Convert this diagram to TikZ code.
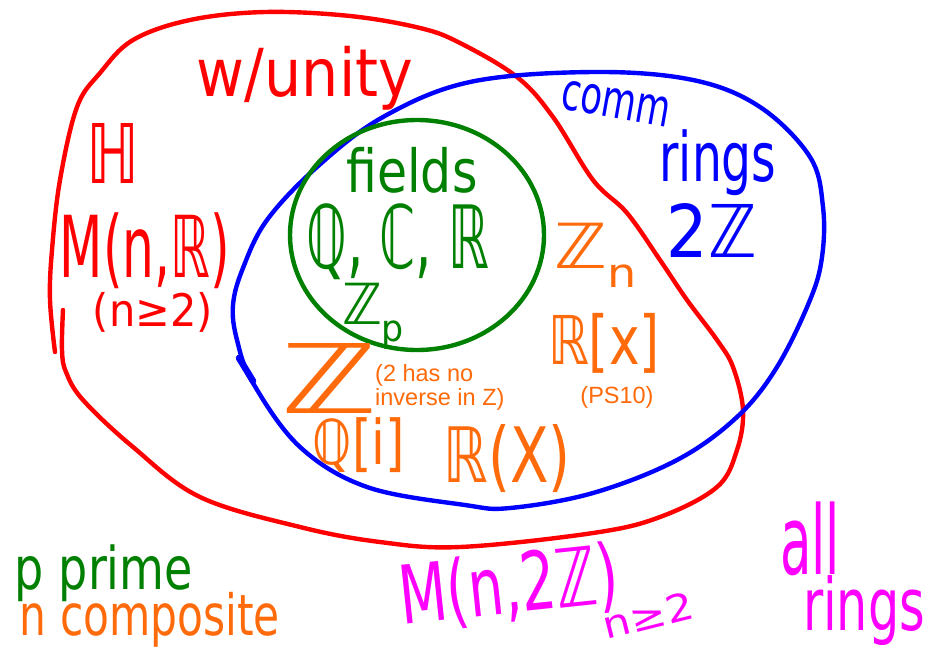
\documentclass[tikz,border=0pt]{standalone}
\usepackage{graphicx}
\usepackage{fontspec}
\setmainfont{DejaVu Sans}
\newfontfamily\smallfont{Liberation Sans}
\definecolor{hred}{RGB}{255,0,0}
\definecolor{hblue}{RGB}{0,0,255}
\definecolor{hgreen}{RGB}{0,128,0}
\definecolor{horange}{RGB}{255,106,10}
\definecolor{hmag}{RGB}{255,0,255}
\newcommand{\hw}[3]{\resizebox*{#1pt}{#2pt}{#3}}
\newcommand{\lowsub}[1]{\raisebox{-0.3em}{\fontsize{6.5}{7}\selectfont #1}}
\begin{document}
\begin{tikzpicture}[x=1pt,y=-1pt,
  hand/.style={inner sep=0pt, outer sep=0pt},
  curve/.style={line width=4.4pt, line cap=round, line join=round},
  note/.style={inner sep=0pt, text=horange, font=\smallfont\fontsize{23.5}{24}\selectfont}]
\useasboundingbox (0,0) rectangle (928,649);
\fill[white] (0,0) rectangle (928,649);

% red: rings with unity
\draw[curve, hred] plot[smooth, tension=0.6] coordinates {
 (63,310) (62,350) (66,372) (83,400) (133,447) (200,497) (300,527) (380,542) (460,547)
 (593,533) (660,517) (717,487) (737,450) (743,410) (733,367) (717,340) (687,300)
 (660,260) (627,213) (593,180) (553,117) (517,77) (460,43) (420,28) (350,16)
 (265,12) (190,20) (133,40) (100,73) (77,107) (60,180) (52,250) (50,300) (55,352)};

% blue: commutative rings
\draw[curve, hblue] plot[smooth cycle, tension=0.6] coordinates {
 (233,305) (243,268) (267,220) (317,167) (383,117) (470,82) (593,72) (693,80)
 (760,107) (810,157) (823,207) (822,257) (810,300) (777,367) (737,417)
 (677,460) (593,493) (510,508) (465,505) (367,487) (300,447) (253,383) (237,340)};
\draw[hblue, line width=6.5pt, line cap=round] (239,358) -- (253,381);

% green: fields
\draw[curve, hgreen] (417,235) ellipse [x radius=127, y radius=115];

% red texts
\node[hand, text=hred] (unity) at (305,78) {\hw{216}{64}{w/unity}};
\node[hand, text=hred] (quat) at (113,153) {\hw{53}{60}{ℍ}};
\node[hand, text=hred] (mnr) at (145,251) {\hw{170}{76}{M(n,ℝ)}};
\node[hand, text=hred] (nge) at (153,312) {\hw{120}{40}{(n≥2)}};

% blue texts
\node[hand, text=hblue, rotate=-10] (comm) at (616,104) {\hw{110}{30}{comm}};
\node[hand, text=hblue] (rings) at (718,163) {\hw{117}{66}{rings}};
\node[hand, text=hblue] (twoz) at (712,230) {\hw{90}{54}{2ℤ}};

% green texts
\node[hand, text=hgreen] (fields) at (412,170) {\hw{131}{46}{fields}};
\node[hand, text=hgreen] (qcr) at (398,242) {\hw{183}{76}{ℚ, ℂ, ℝ}};
\node[hand, text=hgreen] (zp) at (373,316) {\hw{62}{66}{ℤ\lowsub{p}}};

% orange texts
\node[hand, text=horange] (zn) at (596,255) {\hw{82}{64}{ℤ\lowsub{n}}};
\node[hand, text=horange] (rx) at (604,343) {\hw{112}{60}{ℝ[x]}};
\node[note] (ps) at (617,397) {(PS10)};
\node[hand, text=horange] (z) at (330,378) {\hw{96}{70}{ℤ}};
\node[note, anchor=north west, align=left] (inv) at (375,364) {(2 has no\\inverse in Z)};
\node[hand, text=horange] (qi) at (359,445) {\hw{92}{55}{ℚ[i]}};
\node[hand, text=horange] (rX) at (507,459) {\hw{127}{68}{ℝ(X)}};

% bottom texts
\node[hand, text=hgreen] (pprime) at (104,573) {\hw{178}{57}{p prime}};
\node[hand, text=horange] (ncomp) at (150,620) {\hw{260}{55}{n composite}};
\node[hand, text=hmag, rotate=6] (mn2z) at (509,588) {\hw{220}{72}{M(n,2ℤ)}};
\node[hand, text=hmag, rotate=14] (sub) at (648,615) {\hw{92}{28}{n≥2}};
\node[hand, text=hmag] (all) at (810,539) {\hw{60}{74}{all}};
\node[hand, text=hmag] (allr) at (864,611) {\hw{122}{70}{rings}};
\end{tikzpicture}
\end{document}
